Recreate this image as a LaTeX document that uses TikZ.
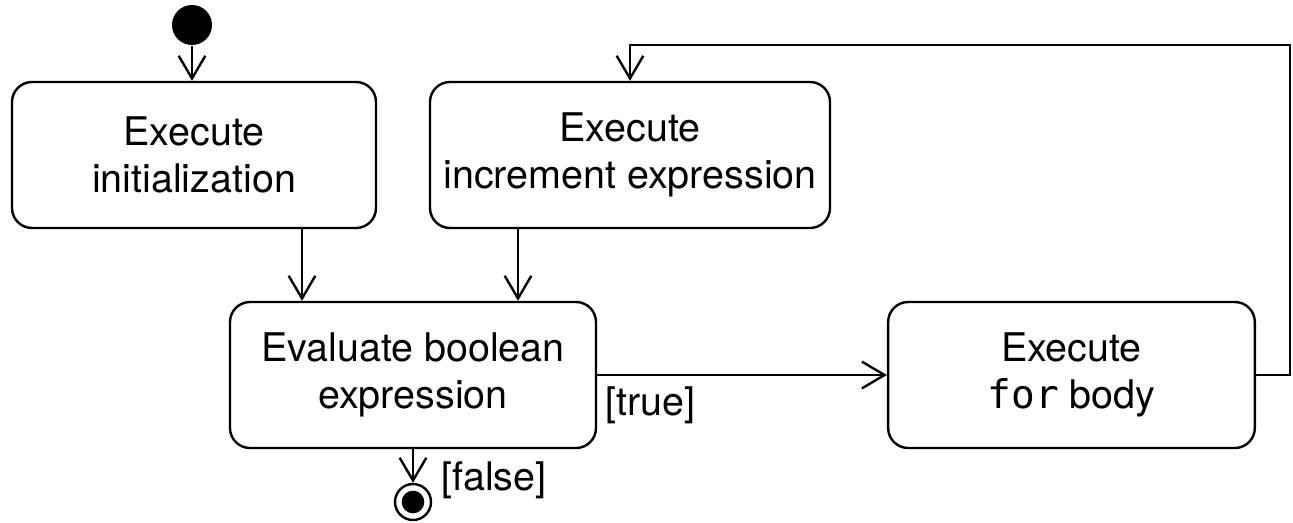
\documentclass[tikz,border=0pt]{standalone}
\usepackage{fontspec}
\setmainfont{TeX Gyre Heros}
\newfontfamily\codefont{DejaVu Sans Mono}
\usetikzlibrary{arrows.meta}
\begin{document}
\begin{tikzpicture}[x=0.75pt,y=-0.75pt,line width=1.8pt,
  txt/.style={font=\fontsize{29.6}{35}\selectfont},
  act/.style={txt,draw,rounded corners=15pt,align=center,inner sep=0pt,minimum height=109.5pt},
  arr/.style={-{Straight Barb[length=17pt,width=20pt,line width=1.8pt]}},
  startnode/.style={circle,fill,inner sep=0pt,minimum size=30pt},
  endnode/.style={circle,draw,inner sep=0pt,minimum size=27pt}]
\useasboundingbox (0,0) rectangle (1293,522);
\node[act,minimum width=273pt] (init) at (194,155) {Execute\\initialization};
\node[act,minimum width=300pt] (incr) at (630,155) {Execute\\increment expression};
\node[act,minimum width=274.5pt] (eval) at (413,375) {Evaluate boolean\\expression};
\node[act,minimum width=275pt] (body) at (1071.5,375) {Execute\\{\codefont for} body};
\node[startnode] (start) at (192,25) {};
\node[endnode] (end) at (413,502) {};
\fill (end.center) circle (8.5pt);
\coordinate (c1) at (302,0);
\coordinate (c2) at (518,0);
\coordinate (loop) at (1290,45);
\draw[arr] (start.south) -- (start.south |- init.north);
\draw[arr] (init.south -| c1) -- (eval.north -| c1);
\draw[arr] (incr.south -| c2) -- (eval.north -| c2);
\draw[arr] (eval.east) -- (body.west);
\draw[arr] (body.east) -| (loop) -| (incr.north);
\draw[arr] (eval.south) -- (end.north);
\node[txt,anchor=west] (lt) at (600,405) {[true]};
\node[txt,anchor=west] (lf) at (436,480) {[false]};
\end{tikzpicture}
\end{document}
